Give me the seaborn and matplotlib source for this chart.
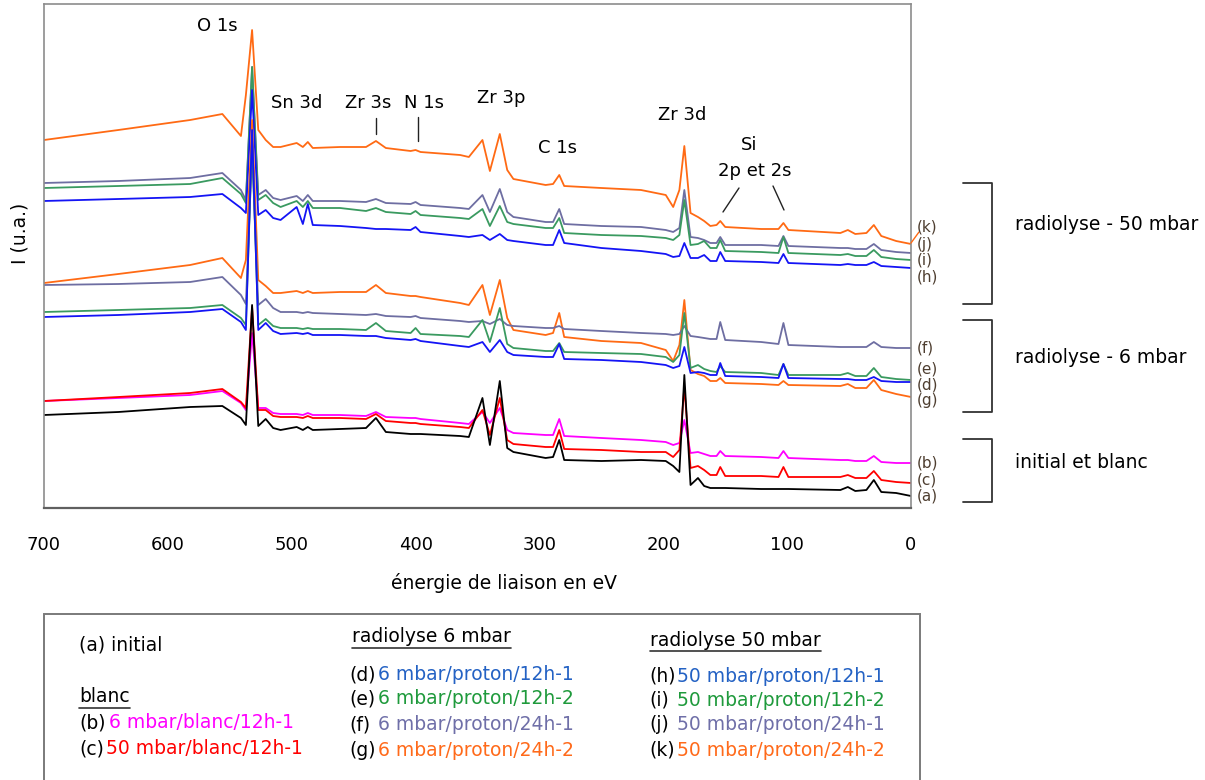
import matplotlib
matplotlib.use("Agg")
import matplotlib.pyplot as plt
import seaborn as sns
import pandas as pd
from matplotlib.lines import Line2D
from matplotlib.patches import Rectangle

# ---------------- data (binding energy grid in eV, intensities in a.u.) ----------------
EV = [700, 640, 582, 556, 541, 537, 532, 527, 521, 515,
      509, 496, 491, 487, 483, 461, 440, 432, 424, 404,
      400, 396, 364, 357, 346, 340, 332, 326, 321, 295,
      289, 284, 280, 250, 218, 198, 192, 187, 183, 178,
      172, 167, 162, 157, 154, 150, 121, 107, 103, 99,
      57, 51, 45, 36, 30, 24, 12, 0]

I_k = [368, 378, 388, 394, 372, 413, 478, 378, 368, 361,
       361, 365, 361, 366, 360, 361, 361, 367, 360, 357,
       358, 356, 353, 351, 368, 337, 374, 338, 329, 323,
       324, 333, 322, 320, 318, 313, 301, 318, 362, 295,
       291, 287, 282, 283, 287, 281, 279, 279, 285, 278,
       275, 278, 274, 275, 283, 272, 267, 264]
I_j = [325, 327, 330, 335, 318, 308, 441, 313, 318, 310,
       308, 312, 307, 313, 307, 307, 306, 309, 305, 304,
       306, 303, 300, 299, 313, 296, 319, 296, 291, 286,
       286, 299, 284, 282, 281, 278, 276, 280, 318, 271,
       270, 268, 265, 265, 271, 263, 263, 262, 272, 262,
       260, 260, 259, 259, 264, 258, 256, 255]
I_i = [320, 322, 324, 330, 314, 305, 441, 308, 313, 305,
       301, 307, 301, 307, 300, 300, 297, 300, 296, 294,
       297, 293, 290, 289, 299, 282, 302, 286, 284, 280,
       280, 290, 275, 273, 272, 270, 268, 273, 308, 263,
       264, 267, 260, 260, 268, 257, 256, 255, 271, 255,
       253, 254, 252, 252, 258, 251, 249, 248]
I_h = [307, 309, 311, 314, 300, 295, 418, 293, 298, 290,
       288, 301, 284, 304, 283, 282, 280, 279, 279, 278,
       281, 276, 272, 271, 273, 268, 274, 268, 267, 263,
       263, 278, 265, 260, 257, 254, 251, 252, 265, 250,
       250, 253, 247, 247, 256, 247, 246, 245, 254, 245,
       243, 244, 243, 243, 246, 242, 241, 240]
I_g = [225, 234, 243, 250, 230, 248, 388, 228, 222, 215,
       215, 217, 215, 217, 215, 216, 216, 223, 215, 212,
       212, 211, 205, 203, 223, 193, 228, 190, 178, 173,
       175, 195, 171, 167, 165, 158, 147, 163, 208, 138,
       134, 132, 127, 127, 130, 125, 124, 123, 127, 123,
       122, 124, 120, 120, 128, 118, 114, 111]
I_f = [223, 224, 226, 231, 213, 204, 358, 203, 209, 200,
       196, 196, 195, 196, 195, 194, 193, 194, 192, 191,
       192, 190, 187, 186, 187, 184, 189, 183, 182, 180,
       180, 182, 179, 177, 175, 174, 173, 174, 182, 172,
       171, 170, 169, 169, 186, 168, 166, 164, 185, 163,
       161, 161, 161, 161, 166, 161, 160, 160]
I_e = [196, 198, 200, 203, 190, 183, 368, 183, 189, 182,
       180, 180, 179, 180, 179, 179, 178, 185, 177, 175,
       180, 174, 172, 171, 188, 166, 200, 164, 160, 157,
       157, 165, 156, 155, 154, 151, 146, 153, 195, 140,
       143, 139, 137, 136, 142, 136, 135, 133, 144, 133,
       133, 135, 132, 132, 140, 131, 129, 128]
I_d = [191, 193, 196, 199, 186, 178, 378, 178, 185, 177,
       174, 175, 174, 175, 173, 173, 172, 172, 170, 168,
       169, 167, 162, 161, 166, 156, 168, 156, 153, 151,
       151, 164, 149, 148, 146, 143, 140, 142, 161, 135,
       136, 135, 133, 133, 145, 132, 131, 130, 144, 130,
       129, 129, 128, 128, 131, 127, 126, 126]
I_b = [107, 110, 113, 117, 105, 98, 175, 100, 100, 95,
       94, 94, 93, 95, 93, 93, 92, 96, 91, 90,
       90, 89, 85, 84, 96, 85, 100, 78, 75, 73,
       73, 89, 72, 70, 68, 66, 63, 65, 88, 55,
       56, 54, 52, 52, 57, 52, 51, 50, 57, 50,
       48, 48, 47, 47, 52, 46, 45, 45]
I_c = [107, 111, 115, 119, 106, 100, 201, 98, 98, 92,
       91, 91, 90, 92, 90, 90, 89, 94, 87, 85,
       85, 84, 81, 80, 98, 73, 110, 68, 64, 61,
       61, 78, 59, 58, 56, 56, 51, 58, 121, 40,
       42, 38, 33, 33, 41, 32, 32, 31, 41, 31,
       31, 33, 30, 30, 37, 28, 26, 25]
I_a = [93, 96, 101, 102, 90, 83, 203, 82, 89, 80,
       78, 81, 78, 81, 78, 79, 80, 90, 76, 74,
       74, 74, 72, 71, 110, 63, 127, 60, 56, 50,
       51, 68, 48, 47, 48, 47, 42, 36, 133, 23,
       30, 22, 20, 20, 20, 20, 19, 19, 19, 19,
       18, 21, 17, 18, 28, 16, 15, 12]

CURVES = {"k": I_k, "j": I_j, "i": I_i, "h": I_h, "g": I_g, "f": I_f,
          "e": I_e, "d": I_d, "b": I_b, "c": I_c, "a": I_a}
XTICKS = [700, 600, 500, 400, 300, 200, 100, 0]

PEAKS = ["O 1s", "Sn 3d", "Zr 3s", "N 1s", "Zr 3p", "C 1s", "Zr 3d", "Si", "2p et 2s"]
GROUPS = ["radiolyse - 50 mbar", "radiolyse - 6 mbar", "initial et blanc"]
LEG_A = "(a) initial"
LEG_BLANC = [("(b)", "6 mbar/blanc/12h-1"), ("(c)", "50 mbar/blanc/12h-1")]
LEG_6 = [("(d)", "6 mbar/proton/12h-1"), ("(e)", "6 mbar/proton/12h-2"),
         ("(f)", "6 mbar/proton/24h-1"), ("(g)", "6 mbar/proton/24h-2")]
LEG_50 = [("(h)", "50 mbar/proton/12h-1"), ("(i)", "50 mbar/proton/12h-2"),
          ("(j)", "50 mbar/proton/24h-1"), ("(k)", "50 mbar/proton/24h-2")]

# ---------------- styles ----------------
ORANGE, PURPLE, GREEN, BLUE = "#ff6a14", "#6e6ea2", "#3a9a60", "#1414f5"
LINE_COL = {"k": ORANGE, "j": PURPLE, "i": GREEN, "h": BLUE,
            "g": ORANGE, "f": PURPLE, "e": GREEN, "d": BLUE,
            "b": "#ff00ff", "c": "#ff0000", "a": "#000000"}
TXT_COL = {"b": "#ff00ff", "c": "#ff0000", "d": "#2462c4", "e": "#1f9a3c",
           "f": "#6f6fa8", "g": "#ff6a1a", "h": "#2462c4", "i": "#1f9a3c",
           "j": "#6f6fa8", "k": "#ff6a1a"}

sns.set_style("white")
plt.rcParams["font.family"] = ["DejaVu Sans"]
plt.rcParams["text.color"] = "black"
plt.rcParams["xtick.color"] = "black"
plt.rcParams["xtick.labelcolor"] = "black"

W, H = 1205, 780
fig = plt.figure(figsize=(W / 100, H / 100), dpi=100)
AX_L, AX_R, AX_T, AX_B = 44, 911, 4, 508
ax = fig.add_axes([AX_L / W, 1 - AX_B / H, (AX_R - AX_L) / W, (AX_B - AX_T) / H])

rows = []
for name, vals in CURVES.items():
    for e, v in zip(EV, vals):
        rows.append({"eV": e, "I": v, "curve": name})
df = pd.DataFrame(rows)

sns.lineplot(data=df, x="eV", y="I", hue="curve", hue_order=list(CURVES.keys()),
             palette=LINE_COL, estimator=None, sort=True, lw=1.3, legend=False, ax=ax)

ax.set_xlim(700, 0)
ax.set_ylim(0, AX_B - AX_T)
ax.set_xticks(XTICKS)
ax.set_xticklabels([str(t) for t in XTICKS], fontsize=13, color="black")
ax.set_yticks([])
ax.set_xlabel("")
ax.set_ylabel("")
ax.tick_params(axis="x", direction="out", length=7, width=1.2, color="#555555", pad=13)
for s in ["left", "top", "right"]:
    ax.spines[s].set_color("#8c8c8c")
    ax.spines[s].set_linewidth(1.2)
ax.spines["bottom"].set_color("#606060")
ax.spines["bottom"].set_linewidth(1.6)


def ftext(px, py, s, **kw):
    kw.setdefault("color", "black")
    return fig.text(px / W, 1 - py / H, s, **kw)


def fline(xs, ys, **kw):
    fig.add_artist(Line2D([x / W for x in xs], [1 - y / H for y in ys],
                          transform=fig.transFigure, **kw))


# axis titles
ftext(504, 583, "énergie de liaison en eV", ha="center", va="center", fontsize=13.5)
ftext(20, 233, "I (u.a.)", ha="center", va="center", rotation=90, fontsize=13.5)

# peak annotations
peak_pos = [(217, 26), (297, 103), (368, 103), (424, 103), (501, 98),
            (558, 148), (682, 115), (749, 145), (755, 171)]
for lab, (px, py) in zip(PEAKS, peak_pos):
    ftext(px, py, lab, ha="center", va="center", fontsize=13)
fline([376, 376], [118, 134], color="#222222", lw=1)
fline([418, 418], [117, 141], color="#222222", lw=1)
fline([739, 723], [188, 212], color="#222222", lw=1)
fline([773, 784], [186, 210], color="#222222", lw=1)

# curve tags on the right
tag_pos = {"k": 227, "j": 244, "i": 260, "h": 277, "f": 348, "e": 369,
           "d": 385, "g": 401, "b": 463, "c": 480, "a": 496}
for k, py in tag_pos.items():
    ftext(917, py, f"({k})", ha="left", va="center", fontsize=11, color="#4e3e30")
fline([911, 919], [243, 232], color=ORANGE, lw=1)

# brackets + group labels
for (y0, y1), lab, ly in zip([(183, 304), (320, 412), (439, 502)], GROUPS, [225, 358, 463]):
    fline([963, 992, 992, 963], [y0, y0, y1, y1], color="#333333", lw=1.3)
    ftext(1015, ly, lab, ha="left", va="center", fontsize=13.5)

# legend box
fig.add_artist(Rectangle((44 / W, 1 - 795 / H), (920 - 44) / W, (795 - 614) / H,
                         fill=False, ec="#7a7a7a", lw=1.4, transform=fig.transFigure))
LFS = 13.5
ftext(79, 645, LEG_A, ha="left", va="center", fontsize=LFS)
under = [ftext(79, 697, "blanc", ha="left", va="center", fontsize=LFS),
         ftext(352, 637, "radiolyse 6 mbar", ha="left", va="center", fontsize=LFS),
         ftext(650, 640, "radiolyse 50 mbar", ha="left", va="center", fontsize=LFS)]
for (tag, lab), py, x2 in zip(LEG_BLANC, [723, 749], [109, 106]):
    ftext(79, py, tag, ha="left", va="center", fontsize=LFS)
    ftext(x2, py, lab, ha="left", va="center", fontsize=LFS, color=TXT_COL[tag[1]])
for (tag, lab), py in zip(LEG_6, [675, 699, 725, 750]):
    ftext(349, py, tag, ha="left", va="center", fontsize=LFS)
    ftext(378, py, lab, ha="left", va="center", fontsize=LFS, color=TXT_COL[tag[1]])
for (tag, lab), py in zip(LEG_50, [676, 700, 725, 750]):
    ftext(649, py, tag, ha="left", va="center", fontsize=LFS)
    ftext(677, py, lab, ha="left", va="center", fontsize=LFS, color=TXT_COL[tag[1]])

renderer = fig.canvas.get_renderer()
for t in under:
    bb = t.get_window_extent(renderer)
    fig.add_artist(Line2D([bb.x0 / W, bb.x1 / W], [(bb.y0 - 1) / H] * 2,
                          transform=fig.transFigure, color="#333333", lw=1.2))

fig.savefig("out.png", dpi=100)
